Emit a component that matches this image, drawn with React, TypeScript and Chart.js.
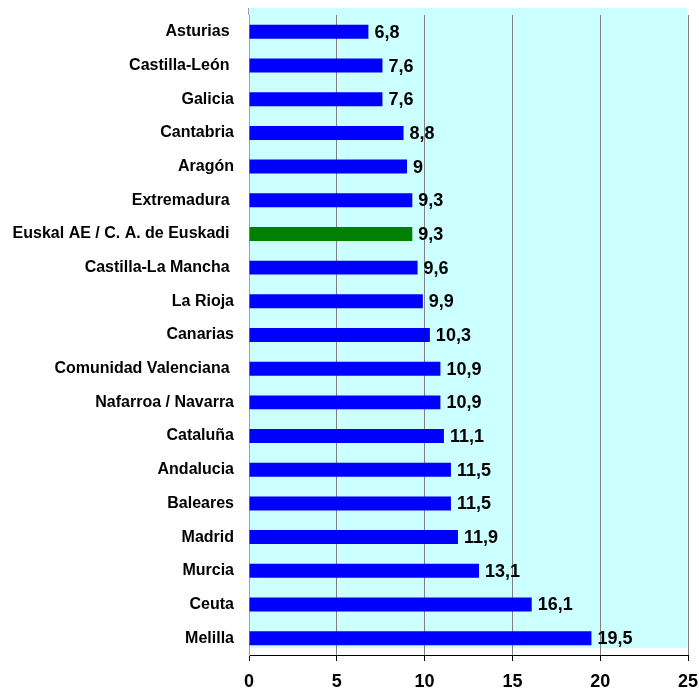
import React, { useEffect, useRef } from "react";
import { Chart, registerables } from "chart.js";

Chart.register(...registerables);

const categories = [
  "Asturias ",
  "Castilla-León ",
  "Galicia",
  "Cantabria",
  "Aragón",
  "Extremadura ",
  "Euskal AE / C. A. de Euskadi ",
  "Castilla-La Mancha ",
  "La Rioja",
  "Canarias",
  "Comunidad Valenciana ",
  "Nafarroa / Navarra",
  "Cataluña",
  "Andalucia",
  "Baleares",
  "Madrid",
  "Murcia",
  "Ceuta",
  "Melilla",
];

const values = [6.8, 7.6, 7.6, 8.8, 9, 9.3, 9.3, 9.6, 9.9, 10.3, 10.9, 10.9, 11.1, 11.5, 11.5, 11.9, 13.1, 16.1, 19.5];

const highlightIndex = 6;
const xTicks = [0, 5, 10, 15, 20, 25];

const FONT = "'Liberation Sans', Arial, sans-serif";

const bgPlugin = {
  id: "plotBg",
  beforeDraw(chart: any) {
    const { ctx, chartArea } = chart;
    ctx.save();
    ctx.fillStyle = "#CCFFFF";
    ctx.fillRect(chartArea.left, chartArea.top - 7, chartArea.right - chartArea.left - 1, chartArea.bottom - chartArea.top);
    ctx.strokeStyle = "#A0A0A0";
    ctx.lineWidth = 1;
    ctx.beginPath();
    ctx.moveTo(chartArea.left - 0.5, chartArea.top - 7);
    ctx.lineTo(chartArea.left - 0.5, chartArea.top);
    ctx.stroke();
    ctx.restore();
  },
};

const labelPlugin = {
  id: "valueLabels",
  afterDatasetsDraw(chart: any) {
    const { ctx } = chart;
    const meta = chart.getDatasetMeta(0);
    ctx.save();
    ctx.font = `bold 18px ${FONT}`;
    ctx.fillStyle = "#000";
    ctx.textAlign = "left";
    ctx.textBaseline = "alphabetic";
    meta.data.forEach((bar: any, i: number) => {
      const txt = String(values[i]).replace(".", ",");
      ctx.fillText(txt, bar.x + 6, bar.y + 6);
    });
    ctx.restore();
  },
};

export default function App() {
  const ref = useRef<HTMLCanvasElement | null>(null);
  useEffect(() => {
    if (!ref.current) return;
    const chart = new Chart(ref.current, {
      type: "bar",
      data: {
        labels: categories,
        datasets: [
          {
            data: values,
            backgroundColor: values.map((_, i) => (i === highlightIndex ? "#008000" : "#0000FF")),
            borderWidth: 0,
            barPercentage: 0.415,
            categoryPercentage: 1,
          },
        ],
      },
      options: {
        indexAxis: "y",
        responsive: false,
        animation: false,
        layout: { padding: { top: 15, right: 11, bottom: 0, left: 0 } },
        plugins: {
          legend: { display: false },
          tooltip: { enabled: false },
        },
        scales: {
          x: {
            min: 0,
            max: 25,
            afterBuildTicks: (scale: any) => {
              scale.ticks = xTicks.map((v) => ({ value: v }));
            },
            afterFit: (scale: any) => {
              scale.height = 36;
              scale.paddingLeft = 0;
              scale.paddingRight = 0;
            },
            grid: {
              color: "#808080",
              tickColor: "#000",
              tickLength: 6,
              lineWidth: 1,
            },
            border: { display: true, color: "#000", width: 1 },
            ticks: {
              color: "#000",
              font: { family: FONT, size: 18, weight: "bold" },
              padding: 10,
              maxRotation: 0,
            },
          },
          y: {
            afterFit: (scale: any) => {
              scale.width = 249;
              scale.paddingTop = 0;
              scale.paddingBottom = 0;
            },
            grid: { display: false, drawTicks: false },
            border: { display: true, color: "#A0A0A0", width: 1 },
            ticks: {
              color: "#000",
              font: { family: FONT, size: 16, weight: "bold" },
              padding: 15,
              autoSkip: false,
            },
          },
        },
      },
      plugins: [bgPlugin, labelPlugin],
    } as any);
    return () => chart.destroy();
  }, []);

  return (
    <div style={{ position: "fixed", left: 0, top: 0, width: 699, height: 691, background: "#fff" }}>
      <canvas ref={ref} width={699} height={691} style={{ display: "block" }} />
    </div>
  );
}
